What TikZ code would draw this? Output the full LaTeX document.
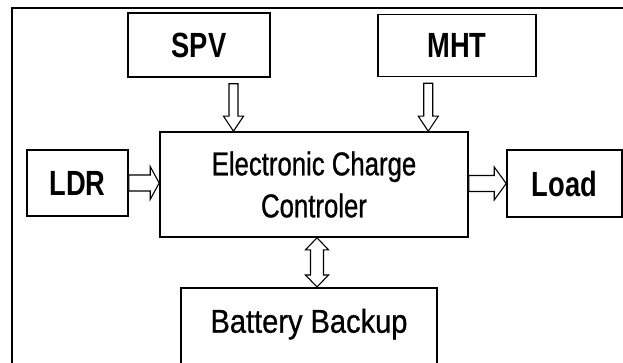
\documentclass[tikz,border=0pt]{standalone}
\usepackage{fontspec}
\setmainfont{Liberation Sans}[FakeStretch=0.78, UprightFeatures={FakeBold=0.8}]
\newfontfamily\widefont{Liberation Sans}[FakeStretch=0.88, UprightFeatures={FakeBold=0.8}]
\usepackage{tikz}
\usetikzlibrary{calc, positioning}
\tikzstyle{block} = [rectangle, draw=black, line width=1.6pt, fill=white, inner sep=0pt, align=center, font=\fontsize{33}{42}\selectfont]
\tikzstyle{tagblock} = [block, font=\fontsize{35}{42}\selectfont\bfseries]
\tikzstyle{hollow} = [draw=black, line width=1.1pt, fill=white, line join=miter]

% outline arrow: from, to, half shaft, half head, head length
\newcommand{\hollowarrow}[5]{%
  \draw[hollow] ($(#1)!#3!90:(#2)$) -- ($(#2)!#5!(#1)!#3!90:(#2)$) -- ($(#2)!#5!(#1)!#4!90:(#2)$) -- (#2)
    -- ($(#2)!#5!(#1)!#4!-90:(#2)$) -- ($(#2)!#5!(#1)!#3!-90:(#2)$) -- ($(#1)!#3!-90:(#2)$) -- cycle;}
% outline arrow with two heads
\newcommand{\hollowboth}[5]{%
  \draw[hollow] (#1) -- ($(#1)!#5!(#2)!#4!90:(#2)$) -- ($(#1)!#5!(#2)!#3!90:(#2)$) -- ($(#2)!#5!(#1)!#3!90:(#2)$)
    -- ($(#2)!#5!(#1)!#4!90:(#2)$) -- (#2) -- ($(#2)!#5!(#1)!#4!-90:(#2)$) -- ($(#2)!#5!(#1)!#3!-90:(#2)$)
    -- ($(#1)!#5!(#2)!#3!-90:(#2)$) -- ($(#1)!#5!(#2)!#4!-90:(#2)$) -- cycle;}

\begin{document}
\begin{tikzpicture}[x=1pt, y=-1pt]
\useasboundingbox (0,0) rectangle (623,363);

% outer frame
\draw[line width=2pt] (12,8) rectangle (700,420);

% sources
\node[tagblock, minimum width=142pt, minimum height=64pt] (spv) at (199,45) {SPV};
\node[tagblock, minimum width=158pt, minimum height=62pt] (mht) at (457,45.5) {MHT};
\node[tagblock, minimum width=101pt, minimum height=66pt] (ldr) at (77.5,183) {LDR};

% controller
\node[block, minimum width=308pt, minimum height=105pt] (ctrl) at (314,184.5) {Electronic Charge\\Controler};

% load and battery
\node[tagblock, minimum width=115pt, minimum height=67pt] (load) at (564.5,183.5) {Load};
\node[block, font=\fontsize{33}{42}\widefont, anchor=north, minimum width=256pt, inner ysep=21pt, text depth=50pt] (batt) at (309,287) {Battery Backup};

% arrow ends
\coordinate (spvdn) at ($(spv.south west)!0.74!(spv.south east)+(0,6)$);
\coordinate (spvin) at (spvdn |- ctrl.north);
\coordinate (mhtdn) at ($(mht.south west)!0.32!(mht.south east)+(0,6)$);
\coordinate (mhtin) at (mhtdn |- ctrl.north);
\coordinate (ldrin) at (ctrl.west |- ldr.east);
\coordinate (loadout) at (ctrl.east |- load.west);
\coordinate (battup) at ($(ctrl.south)+(3,0)$);
\coordinate (battin) at (battup |- batt.north);

% connections
\hollowarrow{spvdn}{spvin}{4.5pt}{10pt}{15pt}
\hollowarrow{mhtdn}{mhtin}{4.5pt}{10pt}{15pt}
\hollowarrow{ldr.east}{ldrin}{8pt}{16.5pt}{9pt}
\hollowarrow{loadout}{load.west}{8pt}{16.5pt}{12pt}
\hollowboth{battup}{battin}{6.5pt}{11.5pt}{12pt}
\end{tikzpicture}
\end{document}
